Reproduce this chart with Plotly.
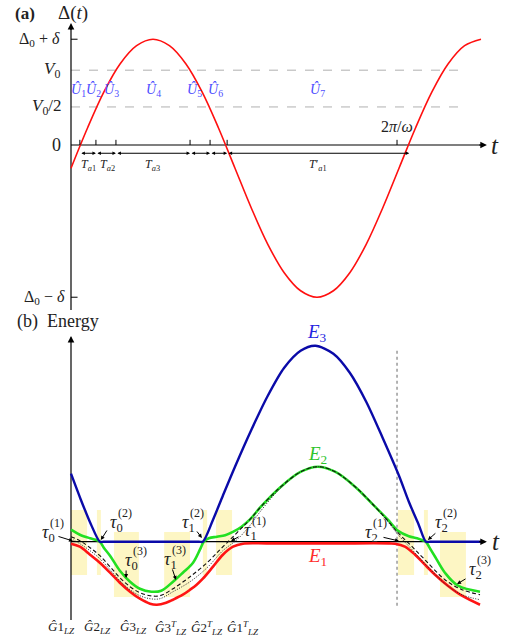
import plotly.graph_objects as go

# ---- panel (a): Delta(t), time in units of one period 2*pi/omega ----
t_a = [0, 0.05, 0.1, 0.15, 0.2, 0.25, 0.3, 0.35, 0.4, 0.45, 0.5, 0.55, 0.6,
       0.65, 0.7, 0.75, 0.8, 0.85, 0.9, 0.95, 1.0, 1.05, 1.1, 1.15, 1.2, 1.25]
delta_a = [-0.18, 0.13, 0.41, 0.63, 0.77, 0.82, 0.77, 0.63, 0.41, 0.13, -0.18,
           -0.49, -0.77, -0.99, -1.13, -1.18, -1.13, -0.99, -0.77, -0.49, -0.18,
           0.13, 0.41, 0.63, 0.77, 0.82]

delta_top = 0.82
delta_bottom = -1.18
v0 = 0.58
v0_half = 0.295
period_t = 0.994
cross_t = [0.027, 0.076, 0.137, 0.363, 0.424, 0.476, 1.031]
u_t = [0.024, 0.070, 0.122, 0.253, 0.378, 0.442, 0.753]
u_names = ["1", "2", "3", "4", "5", "6", "7"]
ta_t = [0.052, 0.110, 0.247, 0.753]
ta_names = ["<i>T</i><sub><i>a</i>1</sub>", "<i>T</i><sub><i>a</i>2</sub>",
            "<i>T</i><sub><i>a</i>3</sub>", "<i>T</i>′<sub><i>a</i>1</sub>"]

# ---- panel (b): energy levels ----
t_e3 = [0, 0.03, 0.06, 0.088, 0.1, 0.2, 0.3, 0.39, 0.402, 0.433, 0.463, 0.5,
        0.55, 0.6, 0.65, 0.7, 0.745, 0.8, 0.85, 0.9, 0.95, 1.0, 1.03, 1.06,
        1.082, 1.095, 1.17, 1.25]
e3 = [0.68, 0.42, 0.18, 0, 0, 0, 0, 0, 0, 0.22, 0.46, 0.75, 1.12, 1.46, 1.74,
      1.91, 1.96, 1.88, 1.69, 1.40, 1.04, 0.66, 0.40, 0.17, 0, 0, 0, 0]

t_e2 = [0, 0.027, 0.058, 0.075, 0.088, 0.1, 0.119, 0.149, 0.180, 0.210, 0.245,
        0.275, 0.311, 0.341, 0.372, 0.393, 0.405, 0.42, 0.445, 0.47, 0.495,
        0.52, 0.545, 0.579, 0.640, 0.701, 0.753, 0.805, 0.866, 0.927, 0.966,
        0.997, 1.03, 1.055, 1.072, 1.082, 1.095, 1.110, 1.140, 1.180, 1.247]
e2 = [0.12, 0.07, 0.035, 0.02, 0.0, -0.06, -0.14, -0.29, -0.40, -0.47, -0.50,
      -0.49, -0.40, -0.31, -0.21, -0.08, 0.0, 0.035, 0.05, 0.065, 0.10, 0.15,
      0.22, 0.35, 0.55, 0.70, 0.75, 0.70, 0.55, 0.35, 0.22, 0.11, 0.055, 0.035,
      0.015, 0.0, -0.07, -0.15, -0.31, -0.44, -0.50]

t_e1 = [0, 0.027, 0.058, 0.088, 0.119, 0.149, 0.180, 0.210, 0.241, 0.262,
        0.290, 0.311, 0.341, 0.363, 0.383, 0.402, 0.433, 0.463, 0.494, 0.524,
        0.6, 0.8, 0.97, 0.988, 1.018, 1.049, 1.079, 1.110, 1.149, 1.192, 1.247]
e1 = [-0.02, -0.05, -0.13, -0.21, -0.31, -0.41, -0.50, -0.57, -0.62, -0.63,
      -0.61, -0.58, -0.53, -0.48, -0.43, -0.37, -0.25, -0.13, -0.05, -0.02,
      -0.017, -0.017, -0.017, -0.02, -0.05, -0.13, -0.23, -0.33, -0.44, -0.54,
      -0.63]

t_dash = [0, 0.027, 0.058, 0.088, 0.119, 0.149, 0.180, 0.210, 0.241, 0.271,
          0.311, 0.363, 0.415, 0.454, 0.485, 0.515, 0.545, 0.579, 0.640, 0.701,
          0.753, 0.805, 0.866, 0.927, 0.966, 0.997, 1.040, 1.079, 1.140, 1.192,
          1.247]
e_dash = [0.05, 0.01, -0.06, -0.14, -0.25, -0.36, -0.45, -0.51, -0.54, -0.54,
          -0.47, -0.35, -0.21, -0.08, 0.02, 0.12, 0.22, 0.35, 0.55, 0.70, 0.75,
          0.70, 0.55, 0.35, 0.21, 0.09, -0.05, -0.18, -0.38, -0.48, -0.53]

t_dot = [0, 0.027, 0.058, 0.088, 0.119, 0.149, 0.180, 0.210, 0.241, 0.271,
         0.311, 0.363, 0.415, 0.463, 0.506, 0.545, 0.579, 0.640, 0.701, 0.753,
         0.805, 0.866, 0.927, 0.966, 0.997, 1.040, 1.079, 1.140, 1.192, 1.247]
e_dot = [0.03, -0.02, -0.09, -0.17, -0.28, -0.39, -0.48, -0.54, -0.57, -0.57,
         -0.50, -0.40, -0.26, -0.09, 0.02, 0.16, 0.31, 0.54, 0.70, 0.75, 0.70,
         0.55, 0.35, 0.20, 0.07, -0.08, -0.22, -0.42, -0.53, -0.58]

# Landau-Zener windows (yellow)
lz_upper = [[0.0, 0.049], [0.079, 0.091], [0.402, 0.415], [0.442, 0.491],
            [0.997, 1.046], [1.076, 1.088]]
lz_lower = [[0.131, 0.207], [0.284, 0.363], [1.125, 1.204]]

g_t = [-0.030, 0.082, 0.192, 0.305, 0.415, 0.524]
g_names = ["<i>Ĝ</i>1<sub><i>LZ</i></sub>", "<i>Ĝ</i>2<sub><i>LZ</i></sub>",
           "<i>Ĝ</i>3<sub><i>LZ</i></sub>", "<i>Ĝ</i>3<sup><i>T</i></sup><sub><i>LZ</i></sub>",
           "<i>Ĝ</i>2<sup><i>T</i></sup><sub><i>LZ</i></sub>", "<i>Ĝ</i>1<sup><i>T</i></sup><sub><i>LZ</i></sub>"]

# tau labels: (text left x, y, sub, sup, arrow tip x, tip y, tail dx, tail dy in px)
taus = [
    (-0.095, 0.077, "0", "(1)", 0.006, 0.007, -16, -5),
    (0.113, 0.177, "0", "(2)", 0.091, 0.017, 7, -11),
    (0.159, -0.203, "0", "(3)", 0.168, -0.363, 0, -9),
    (0.277, -0.193, "1", "(3)", 0.320, -0.383, -4, -12),
    (0.332, 0.177, "1", "(2)", 0.399, 0.037, -6, -8),
    (0.521, 0.097, "1", "(1)", 0.488, 0.007, 9, -5),
    (0.890, 0.077, "2", "(1)", 1.000, 0.007, -17, -4),
    (1.104, 0.177, "2", "(2)", 1.088, 0.017, 9, -8),
    (1.207, -0.293, "2", "(3)", 1.177, -0.423, 10, -6),
]

SERIF = "Liberation Serif"
x_range = [-0.21646, 1.33841]

fig = go.Figure()

# panel (a) curve
fig.add_trace(go.Scatter(x=t_a, y=delta_a, mode="lines", xaxis="x", yaxis="y",
                         line=dict(color="#ff1010", width=1.6, shape="spline")))

# panel (b) curves
fig.add_trace(go.Scatter(x=t_e1, y=e1, mode="lines", xaxis="x2", yaxis="y2",
                         line=dict(color="#ff1414", width=2.6, shape="spline")))
fig.add_trace(go.Scatter(x=t_e2, y=e2, mode="lines", xaxis="x2", yaxis="y2",
                         line=dict(color="#22e022", width=2.6, shape="spline")))
fig.add_trace(go.Scatter(x=t_e3, y=e3, mode="lines", xaxis="x2", yaxis="y2",
                         line=dict(color="#0a0aa8", width=2.4, shape="spline",
                                   smoothing=0.8)))
fig.add_trace(go.Scatter(x=t_dot, y=e_dot, mode="lines", xaxis="x2", yaxis="y2",
                         line=dict(color="#222222", width=1, shape="spline",
                                   dash="1px,1.5px")))
fig.add_trace(go.Scatter(x=t_dash, y=e_dash, mode="lines", xaxis="x2", yaxis="y2",
                         line=dict(color="#111111", width=1.1, shape="spline",
                                   dash="4px,2.5px")))

shapes = []
# yellow windows
for lo, hi in lz_upper:
    shapes.append(dict(type="rect", xref="x2", yref="y2", x0=lo, x1=hi,
                       y0=-0.333, y1=0.317, fillcolor="#fdf6c4",
                       line=dict(width=0), layer="below"))
for lo, hi in lz_lower:
    shapes.append(dict(type="rect", xref="x2", yref="y2", x0=lo, x1=hi,
                       y0=-0.553, y1=0.097, fillcolor="#fdf6c4",
                       line=dict(width=0), layer="below"))

# dashed guide lines in (a)
for lv in [v0, v0_half]:
    shapes.append(dict(type="line", xref="x", yref="y", x0=0, x1=1.195,
                       y0=lv, y1=lv, line=dict(color="#b0b0b0", width=1, dash="dash"),
                       layer="below"))
# period marker in (b)
shapes.append(dict(type="line", xref="x2", yref="y2", x0=period_t, x1=period_t,
                   y0=-0.64, y1=1.94, line=dict(color="#9a9a9a", width=1.5, dash="dot"),
                   layer="below"))

# axes lines
ax_line = dict(color="black", width=1.2)
shapes.append(dict(type="line", xref="x", yref="y", x0=0, x1=0, y0=-1.279, y1=0.93,
                   line=ax_line, layer="below"))
shapes.append(dict(type="line", xref="x", yref="y", x0=0, x1=1.26, y0=0, y1=0,
                   line=ax_line, layer="below"))
shapes.append(dict(type="line", xref="x2", yref="y2", x0=0, x1=0, y0=-0.783, y1=2.04,
                   line=ax_line, layer="below"))
shapes.append(dict(type="line", xref="x2", yref="y2", x0=0, x1=1.26, y0=0, y1=0,
                   line=ax_line, layer="below"))

# small ticks in (a)
for yv in [delta_top, delta_bottom]:
    shapes.append(dict(type="line", xref="x", yref="y", x0=0, x1=0.02, y0=yv, y1=yv,
                       line=dict(color="black", width=1)))
for tv in cross_t[:-1] + [period_t]:
    shapes.append(dict(type="line", xref="x", yref="y", x0=tv, x1=tv, y0=0, y1=0.04,
                       line=dict(color="black", width=1)))

annotations = []


def text(x, y, s, size, ref="", color="#222222", xanchor="center", bold=False, **kw):
    if bold:
        s = "<b>" + s + "</b>"
    annotations.append(dict(x=x, y=y, xref="x" + ref, yref="y" + ref, text=s,
                            showarrow=False, xanchor=xanchor, yanchor="middle",
                            font=dict(family=SERIF, size=size, color=color), **kw))


def arrow(x, y, ax, ay, ref="", side="end", width=1.0, size=1.0, data_tail=True):
    a = dict(x=x, y=y, xref="x" + ref, yref="y" + ref, text="", showarrow=True,
             ax=ax, ay=ay, arrowhead=2, arrowsize=size, arrowwidth=width,
             arrowcolor="black", arrowside=side)
    if data_tail:
        a["axref"] = "x" + ref
        a["ayref"] = "y" + ref
    annotations.append(a)


# axis arrowheads
arrow(0, 0.946, 0, 0.88, size=1.1, width=1.2)
arrow(1.268, 0, 1.24, 0, size=1.1, width=1.2)
arrow(0, 2.057, 0, 2.0, ref="2", size=1.1, width=1.2)
arrow(1.268, 0, 1.24, 0, ref="2", size=1.1, width=1.2)

# panel (a) labels
text(-0.140, 1.023, "(a)", 17, bold=True)
text(0.005, 1.023, "Δ(<i>t</i>)", 19)
text(1.293, 0.0, "<i>t</i>", 25)
text(-0.027, delta_top, "Δ<sub>0</sub> + <i>δ</i>", 16, xanchor="right")
text(-0.027, v0, "<i>V</i><sub>0</sub>", 17, xanchor="right")
text(-0.020, v0_half, "<i>V</i><sub>0</sub>/2", 17, xanchor="right")
text(-0.024, 0.0, "0", 18, xanchor="right")
text(-0.012, delta_bottom, "Δ<sub>0</sub> − <i>δ</i>", 16, xanchor="right")
text(period_t, 0.14, "2<i>π</i>/<i>ω</i>", 16)
for tv, nm in zip(u_t, u_names):
    text(tv, 0.426, "<i>Û</i><sub>" + nm + "</sub>", 14, color="#4c4cff")
for i in range(len(cross_t) - 1):
    arrow(cross_t[i + 1], -0.064, cross_t[i], -0.064, side="end+start",
          size=0.7, width=1.0)
for tv, nm in zip(ta_t, ta_names):
    text(tv, -0.155, nm, 12)

# panel (b) labels
text(-0.171, 2.197, "(b)  Energy", 18, ref="2", xanchor="left")
text(1.296, 0.0, "<i>t</i>", 25, ref="2")
text(0.75, 2.09, "<i>E</i><sub>3</sub>", 19, ref="2", color="#2424e0")
text(0.75, 0.867, "<i>E</i><sub>2</sub>", 19, ref="2", color="#2ec42e")
text(0.75, -0.155, "<i>E</i><sub>1</sub>", 19, ref="2", color="#ff2d2d")
for tv, nm in zip(g_t, g_names):
    text(tv, -0.863, nm, 13, ref="2")
for lx, ly, sub, sup, tx, ty, dx, dy in taus:
    text(lx, ly, "<i>τ</i><sub>" + sub + "</sub>", 18, ref="2", xanchor="left")
    text(lx, ly, sup, 12, ref="2", xanchor="left", xshift=8, yshift=11)
    arrow(tx, ty, dx, dy, ref="2", size=0.8, width=1.0, data_tail=False)

hidden = dict(visible=False, showgrid=False, zeroline=False)
fig.update_layout(
    width=510, height=644,
    margin=dict(l=0, r=0, t=0, b=0),
    paper_bgcolor="white", plot_bgcolor="white",
    showlegend=False,
    xaxis=dict(domain=[0, 1], range=x_range, anchor="y", **hidden),
    yaxis=dict(domain=[0.51087, 1], range=[-1.3178, 1.1240], anchor="x", **hidden),
    xaxis2=dict(domain=[0, 1], range=x_range, anchor="y2", **hidden),
    yaxis2=dict(domain=[0, 0.51087], range=[-1.023, 2.267], anchor="x2", **hidden),
    shapes=shapes,
    annotations=annotations,
)

# drop the page's default body margin so the figure sits at the window corner
fig.write_html("out.html", config={"displayModeBar": False},
               post_script="document.body.style.margin='0';")
